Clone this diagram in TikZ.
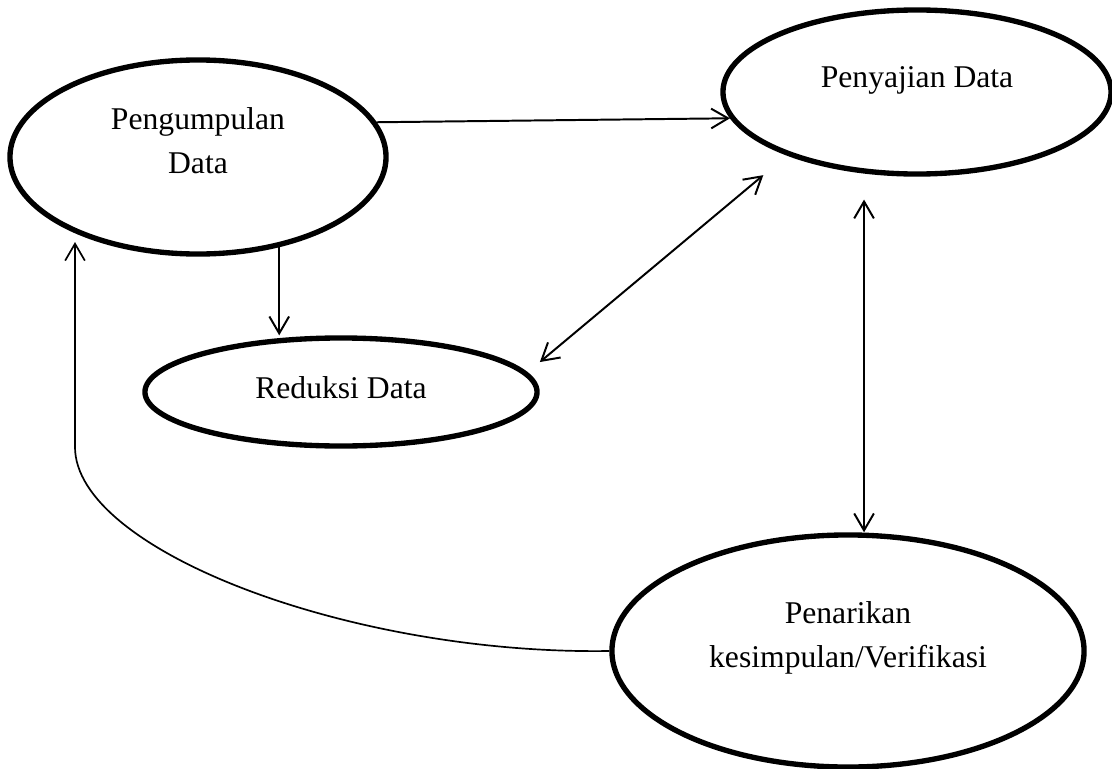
\documentclass[tikz,border=0pt]{standalone}
\usepackage{fontspec}
\setmainfont{Liberation Serif}
\usetikzlibrary{shapes.geometric,arrows.meta}

\begin{document}
\begin{tikzpicture}[
        x = 0.025cm, y = -0.025cm,
        font = \fontsize{22.5}{30.6}\selectfont,
        flow/.style = {line width = 1.4pt, >={Straight Barb[length=12pt,width=14pt]}},
    ]
    \tikzstyle{stagenode} = [ellipse, draw=black, line width=3.8pt, inner sep=0pt, align=center];
    \useasboundingbox (0,0) rectangle (1112,769);
    \node [stagenode, minimum width=9.4cm, minimum height=4.85cm, text height=0.8cm, text depth=0cm] (kumpul) at (198,157) {Pengumpulan\\Data};
    \node [stagenode, minimum width=9.7cm, minimum height=4.1cm, text height=0.55cm, text depth=0.8cm] (saji) at (917,92) {Penyajian Data};
    \node [stagenode, minimum width=9.8cm, minimum height=2.7cm, text height=0.55cm, text depth=0.25cm] (reduksi) at (341,392) {Reduksi Data};
    \node [stagenode, minimum width=11.8cm, minimum height=5.8cm, text height=0.8cm, text depth=0cm] (tarik) at (848,651) {Penarikan\\kesimpulan/Verifikasi};
    \coordinate (belok) at (75,447);
    \draw [flow, ->] (kumpul.11) -- (saji.188);
    \draw [flow, ->] (kumpul.-48) -- (kumpul.-48 |- reduksi.north);
    \draw [flow, <->, shorten <=11.5pt, shorten >=21.8pt] (reduksi.6) -- (saji.206);
    \draw [flow, <->, shorten <=18.5pt] (saji.237) -- (saji.237 |- tarik.north);
    \draw [flow, ->, line width=1.2pt, shorten >=7pt] (tarik.west) .. controls (350,655) and (75,550) .. (belok) -- (belok |- kumpul.211);
\end{tikzpicture}
\end{document}
